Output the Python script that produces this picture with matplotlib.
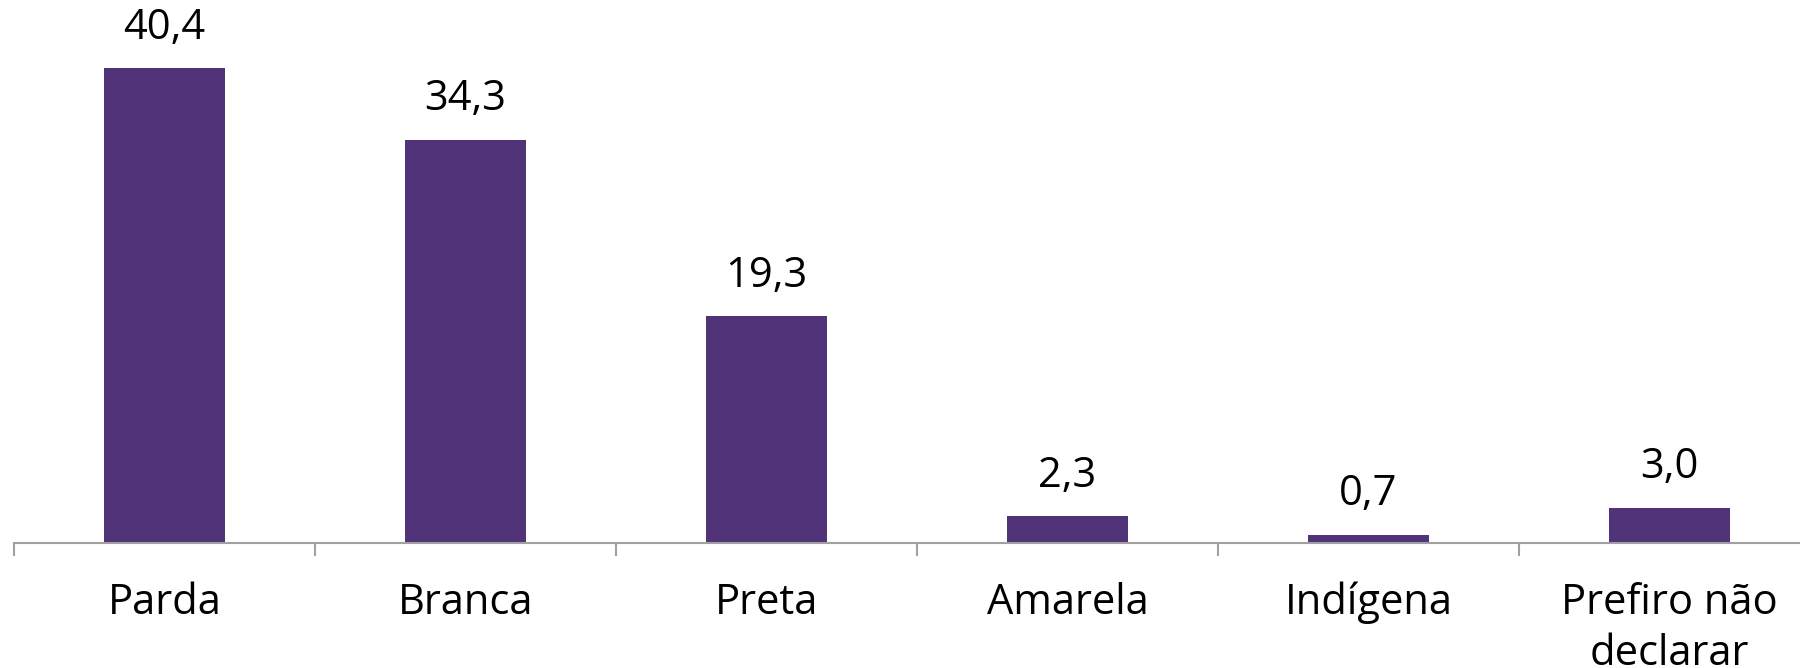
import numpy as np
import matplotlib.pyplot as plt
from matplotlib.ticker import FixedLocator

categories = ["Parda", "Branca", "Preta", "Amarela", "Indígena", "Prefiro não\ndeclarar"]
values = [40.4, 34.3, 19.3, 2.3, 0.7, 3.0]
value_labels = ["40,4", "34,3", "19,3", "2,3", "0,7", "3,0"]

BAR_COLOR = "#51337A"
AXIS_COLOR = "#A0A0A0"
FS = 30

plt.rcParams["font.family"] = ["Open Sans", "DejaVu Sans"]

fig = plt.figure(figsize=(18, 6.68), dpi=100)
# axes run a little past the right edge, as in the original
ax = fig.add_axes([14 / 1800, (668 - 543) / 668, 1806 / 1800, 529 / 668])

x = np.arange(len(categories))
ax.bar(x, values, width=0.40, color=BAR_COLOR, zorder=2)

for xi, v, lbl in zip(x, values, value_labels):
    ax.annotate(lbl, (xi, v), xytext=(0, 14), textcoords="offset points",
                ha="center", va="bottom", fontsize=FS, color="black")

ax.set_xlim(-0.5, len(categories) - 0.5)
ax.set_ylim(0, 45)

for s in ["top", "right", "left"]:
    ax.spines[s].set_visible(False)
ax.spines["bottom"].set_color(AXIS_COLOR)
ax.spines["bottom"].set_linewidth(1.5)

ax.set_yticks([])
ax.set_xticks(x)
ax.set_xticklabels(categories, fontsize=FS, linespacing=1.3)
ax.tick_params(axis="x", which="major", length=0, pad=28)
ax.xaxis.set_minor_locator(FixedLocator(np.arange(len(categories) + 1) - 0.5))
ax.tick_params(axis="x", which="minor", length=9, width=1.5, color=AXIS_COLOR)

fig.savefig("out.png", dpi=100)
